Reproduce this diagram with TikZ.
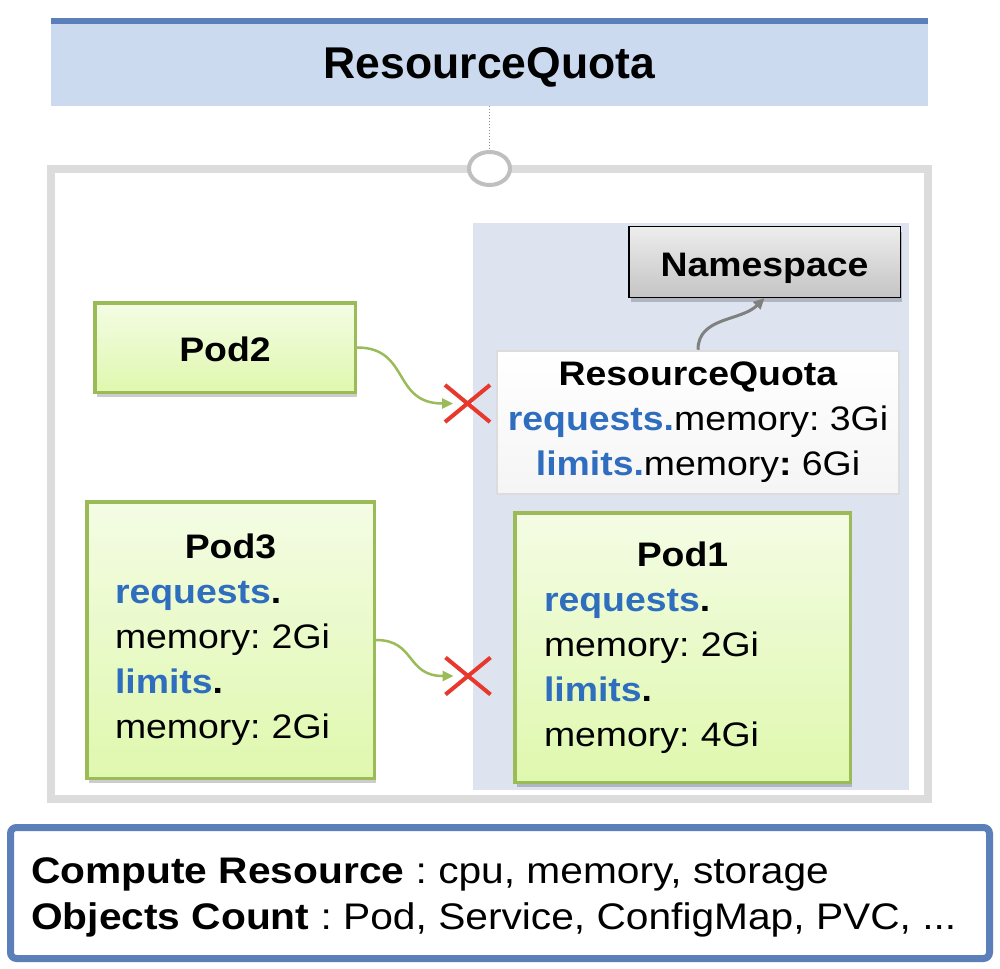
\documentclass[tikz,border=0pt]{standalone}
\usepackage{fontspec}
\setmainfont{Liberation Sans}[FakeStretch=1.1]
\newfontfamily\titlefont{Liberation Sans}
\usetikzlibrary{shapes.geometric,shapes.misc,shadows,arrows.meta}
\definecolor{kblue}{HTML}{2F6EBF}
\definecolor{kstripe}{HTML}{5B80B9}
\definecolor{ktitle}{HTML}{CCDAF0}
\definecolor{knsarea}{HTML}{DDE4F0}
\definecolor{kgreen}{HTML}{9BBB59}
\definecolor{kred}{HTML}{E8372C}
\definecolor{kframe}{HTML}{DCDCDC}
\definecolor{podtop}{HTML}{F4FCE4}
\definecolor{podbot}{HTML}{DFF8AE}
\frenchspacing

\begin{document}
\begin{tikzpicture}[x=1pt,y=1pt,
    pod/.style={draw=kgreen, line width=3.5, top color=podtop, bottom color=podbot,
        drop shadow={shadow xshift=2pt, shadow yshift=-5pt, opacity=.2, fill=black},
        font=\fontsize{34}{45}\selectfont},
    quota/.style={draw=kframe, line width=2.5, top color=white, bottom color=black!4,
        minimum width=402, minimum height=143, align=center,
        font=\fontsize{34}{45}\selectfont},
    nsbox/.style={draw=black, line width=1.5, top color=black!7, bottom color=black!23,
        drop shadow={shadow xshift=2pt, shadow yshift=-5pt, opacity=.2, fill=black},
        minimum width=271.5, minimum height=70.5, text height=28, text depth=0,
        font=\bfseries\fontsize{34}{45}\selectfont},
    ring/.style={ellipse, draw=black!25, line width=4, fill=white,
        minimum width=41, minimum height=33, inner sep=0},
    xmark/.style={cross out, draw=kred, line width=4,
        minimum width=41, minimum height=33, inner sep=0},
    deny/.style={draw=kgreen, line width=2.5, -{Triangle[length=11pt,width=10pt]},
        shorten >=-8pt},
    link/.style={draw=black!50, line width=3, -{Triangle[length=11pt,width=10pt]}}]

\fill[white] (0,0) rectangle (1000,-968);
\useasboundingbox (0,0) rectangle (1000,-968);

\node[fill=ktitle, minimum width=877, minimum height=88, text height=34, text depth=0,
    font={\titlefont\bfseries\fontsize{44.5}{50}\selectfont}] (title) at (489.5,-62) {ResourceQuota};
\fill[kstripe] (title.north west) rectangle ([yshift=-6pt]title.north east);

\draw[kframe, line width=8] (51,-169) rectangle (927.5,-799);
\fill[knsarea] (473,-223) rectangle (908.5,-790);

\node[ring] (ring) at (489.5,-168.5) {};
\draw[black!45, dotted, line width=1] (title.south) -- (ring.north);

\node[nsbox] (ns) at (764.5,-262) {Namespace};

\node[quota] (rq) at (698,-422.5) {\textbf{ResourceQuota}\\
    \textcolor{kblue}{\textbf{requests.}}memory: 3Gi\\
    \textcolor{kblue}{\textbf{limits.}}memory\textbf{:} 6Gi};

\node[pod, minimum width=260.5, minimum height=89.5, text height=28, text depth=0] (pod2) at (225,-347.5) {\textbf{Pod2}};

\node[pod, minimum width=287.5, minimum height=276.5, text width=231, align=left] (pod3) at (230.5,-640) {%
    \makebox[231pt]{\textbf{Pod3}}\\
    \textcolor{kblue}{\textbf{requests}}\textbf{.}\\
    memory: 2Gi\\
    \textcolor{kblue}{\textbf{limits}}\textbf{.}\\
    memory: 2Gi};

\node[pod, minimum width=335.5, minimum height=269.5, text width=277, align=left] (pod1) at (682.5,-647.5) {%
    \makebox[277pt]{\textbf{Pod1}}\\
    \textcolor{kblue}{\textbf{requests}}\textbf{.}\\
    memory: 2Gi\\
    \textcolor{kblue}{\textbf{limits}}\textbf{.}\\
    memory: 4Gi};

\node[xmark] (x2) at (467.5,-403.5) {};
\node[xmark] (x3) at (468,-676) {};

\draw[deny] (pod2.east) to[out=0, in=180, looseness=1.3] (x2.west);
\draw[deny] (pod3.east) to[out=0, in=180, looseness=1.3] (x3.west);
\draw[link] (rq.north) to[out=90, in=-135] (ns.south);

\node[draw=kstripe, line width=7, rounded corners=6, minimum width=979, minimum height=131] (kinds) at (500,-893) {};
\node[anchor=base west, inner sep=0, font=\fontsize{37}{46}\selectfont] (cmp) at (31,-883)
    {\textbf{Compute Resource} : cpu, memory, storage};
\node[anchor=base west, inner sep=0, font=\fontsize{37}{46}\selectfont] (obj) at (31,-929)
    {\textbf{Objects Count} : Pod, Service, ConfigMap, PVC, ...};
\end{tikzpicture}
\end{document}
